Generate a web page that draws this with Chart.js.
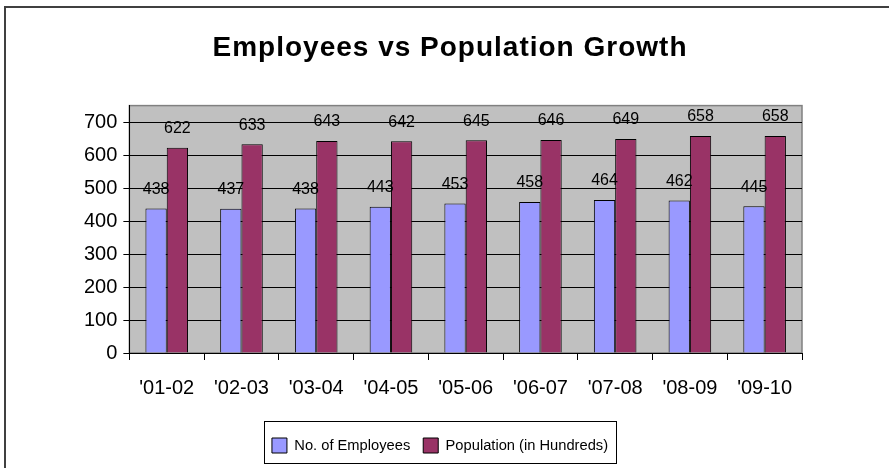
<!DOCTYPE html>
<html>
<head>
<meta charset="utf-8">
<script src="https://cdn.jsdelivr.net/npm/chart.js@4"></script>
<style>
html,body{margin:0;padding:0;background:#fff;}
#wrap{width:889px;height:468px;position:relative;}
</style>
</head>
<body>
<div id="wrap"><canvas id="c"></canvas></div>
<script>
const categories = ["'01-02","'02-03","'03-04","'04-05","'05-06","'06-07","'07-08","'08-09","'09-10"];
const employees = [438,437,438,443,453,458,464,462,445];
const population = [622,633,643,642,645,646,649,658,658];
const seriesNames = ["No. of Employees","Population (in Hundreds)"];
const yTicks = [0,100,200,300,400,500,600,700];
const titleText = "Employees vs Population Growth";

const FONT = 'Arial, "Liberation Sans", sans-serif';

const framePlugin = {
  id: 'frame',
  afterLayout(chart) {
    const tb = chart.titleBlock;
    if (tb && !tb._spaced) {
      const orig = tb.draw;
      tb.draw = function () {
        const ctx = this.ctx;
        ctx.save();
        ctx.letterSpacing = '1px';
        ctx.translate(10, 0);
        orig.apply(this, arguments);
        ctx.restore();
      };
      tb._spaced = true;
    }
  },
  beforeDraw(chart) {
    const ctx = chart.ctx;
    ctx.save();
    ctx.fillStyle = '#ffffff';
    ctx.fillRect(0, 0, chart.width, chart.height);
    ctx.strokeStyle = '#404040';
    ctx.lineWidth = 2;
    ctx.beginPath();
    ctx.moveTo(5, chart.height + 5);
    ctx.lineTo(5, 7);
    ctx.lineTo(chart.width + 5, 7);
    ctx.stroke();
    const a = chart.chartArea;
    ctx.fillStyle = '#C0C0C0';
    ctx.fillRect(a.left, a.top, a.right - a.left, a.bottom - a.top);
    ctx.strokeStyle = '#808080';
    ctx.lineWidth = 1.5;
    ctx.strokeRect(a.left, a.top, a.right - a.left, a.bottom - a.top);
    ctx.restore();
  },
  afterDraw(chart) {
    const lg = chart.legend;
    if (!lg || !lg.legendHitBoxes || !lg.legendHitBoxes.length) return;
    const boxes = lg.legendHitBoxes;
    let l = Infinity, r = -Infinity, t = Infinity, b = -Infinity;
    boxes.forEach(h => { l = Math.min(l, h.left); r = Math.max(r, h.left + h.width); t = Math.min(t, h.top); b = Math.max(b, h.top + h.height); });
    const cy = (t + b) / 2;
    const ctx = chart.ctx;
    ctx.save();
    ctx.strokeStyle = '#000';
    ctx.lineWidth = 1;
    const top = Math.round(cy - 25) + 0.5, bot = Math.round(cy + 17) + 0.5;
    ctx.strokeRect(Math.round(l - 8) + 0.5, top, Math.round(r - l + 16), bot - top);
    ctx.restore();
  }
};

const labelPlugin = {
  id: 'valueLabels',
  afterDatasetsDraw(chart) {
    const ctx = chart.ctx;
    ctx.save();
    ctx.font = '16px ' + FONT;
    ctx.fillStyle = '#000';
    ctx.textAlign = 'center';
    ctx.textBaseline = 'middle';
    chart.data.datasets.forEach((ds, i) => {
      const meta = chart.getDatasetMeta(i);
      meta.data.forEach((bar, j) => {
        ctx.fillText(String(ds.data[j]), bar.x, bar.y - 19);
      });
    });
    ctx.restore();
  }
};

new Chart(document.getElementById('c'), {
  type: 'bar',
  data: {
    labels: categories,
    datasets: [
      { label: seriesNames[0], data: employees, backgroundColor: '#9999FF', borderColor: '#000', borderWidth: 1 },
      { label: seriesNames[1], data: population, backgroundColor: '#993366', borderColor: '#000', borderWidth: 1 }
    ]
  },
  options: {
    responsive: true,
    maintainAspectRatio: false,
    animation: false,
    devicePixelRatio: 1,
    layout: { padding: { left: 78, right: 87, top: 0, bottom: 5 } },
    datasets: { bar: { categoryPercentage: 0.57, barPercentage: 1.0 } },
    plugins: {
      title: {
        display: true,
        text: titleText,
        color: '#000',
        font: { family: FONT, size: 28, weight: 'bold' },
        padding: { top: 31, bottom: 41 }
      },
      legend: {
        position: 'bottom',
        labels: {
          color: '#000',
          font: { family: FONT, size: 14.7 },
          boxWidth: 15,
          boxHeight: 15,
          padding: 13,
          generateLabels(chart) {
            return chart.data.datasets.map((ds, i) => ({
              text: ds.label, fillStyle: ds.backgroundColor, strokeStyle: '#000', lineWidth: 1, datasetIndex: i, hidden: false
            }));
          }
        }
      },
      tooltip: { enabled: false }
    },
    scales: {
      x: {
        offset: true,
        grid: { offset: true, drawOnChartArea: false, drawTicks: true, tickLength: 7, color: '#000' },
        border: { display: true, color: '#000', width: 1 },
        ticks: { color: '#000', font: { family: FONT, size: 20 }, padding: 16, maxRotation: 0 },
        afterFit(scale) { scale.height += 9; }
      },
      y: {
        min: 0,
        max: 750,
        grid: { color: '#000', lineWidth: 1, drawTicks: true, tickLength: 6 },
        border: { display: true, color: '#000', width: 1 },
        ticks: { color: '#000', font: { family: FONT, size: 20 }, padding: 6 },
        afterBuildTicks(axis) { axis.ticks = yTicks.map(v => ({ value: v })); }
      }
    }
  },
  plugins: [framePlugin, labelPlugin]
});
</script>
</body>
</html>
